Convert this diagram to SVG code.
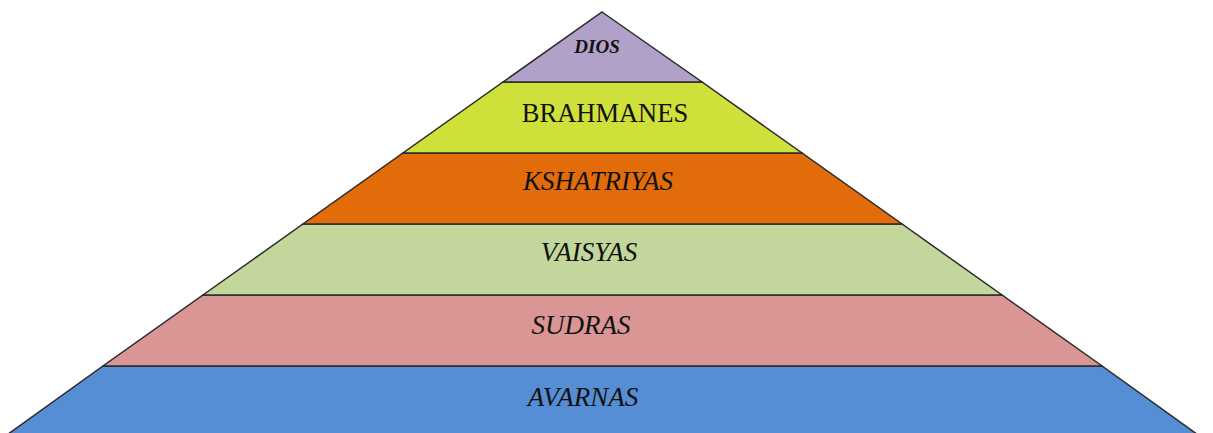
<svg xmlns="http://www.w3.org/2000/svg" width="1213" height="433" viewBox="0 0 1213 433">
<style>
.band{stroke:#2b2b2b;stroke-width:1.5;stroke-linejoin:miter}
.t{font-family:"Liberation Serif","Times New Roman",serif;fill:#111;text-anchor:middle}
.i{font-style:italic}
</style>
<rect width="1213" height="433" fill="#fff"/>
<g id="avarnas"><polygon class="band" fill="#558ed5" points="103,366 1102,366 1201,437 4,437"/><text class="t i" x="583" y="406" font-size="27">AVARNAS</text></g>
<g id="sudras"><polygon class="band" fill="#d99694" points="203,295 1002,295 1102,366 103,366"/><text class="t i" x="581" y="334" font-size="27">SUDRAS</text></g>
<g id="vaisyas"><polygon class="band" fill="#c3d69b" points="303,224 902,224 1002,295 203,295"/><text class="t i" x="589" y="261" font-size="27">VAISYAS</text></g>
<g id="kshatriyas"><polygon class="band" fill="#e36c0a" points="403,153 802,153 902,224 303,224"/><text class="t i" x="598" y="190" font-size="27">KSHATRIYAS</text></g>
<g id="brahmanes"><polygon class="band" fill="#cfe03a" points="503,82 702,82 802,153 403,153"/><text class="t" x="605" y="122" font-size="26.5">BRAHMANES</text></g>
<g id="dios"><polygon class="band" fill="#b1a0c7" points="602,12 702,82 503,82"/><text class="t i" x="597" y="53" font-size="19" font-weight="bold">DIOS</text></g>
</svg>
